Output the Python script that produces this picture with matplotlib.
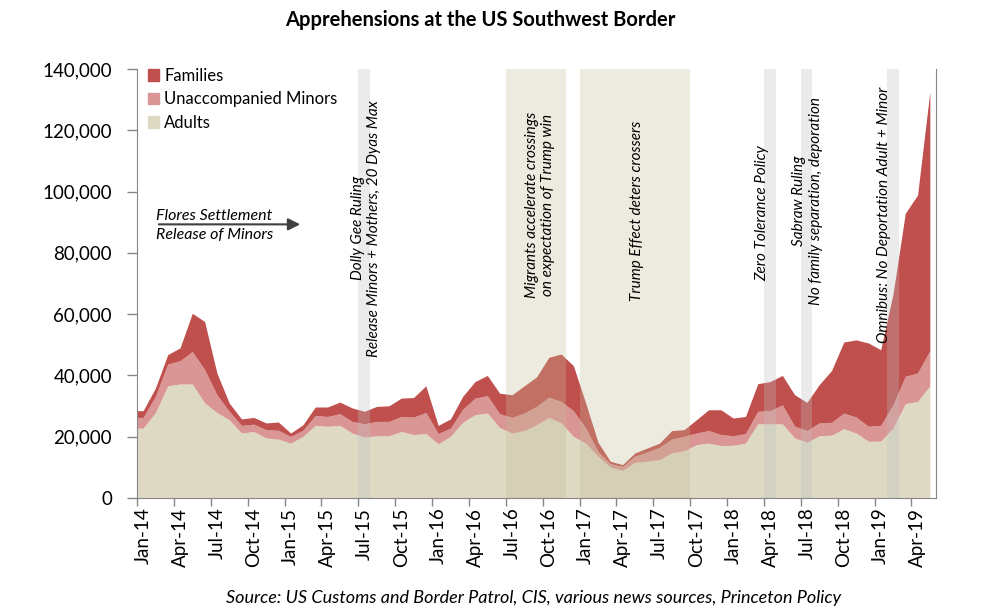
import matplotlib

matplotlib.use('Agg')
import matplotlib.pyplot as plt
from matplotlib.patches import Patch
from matplotlib.ticker import FuncFormatter
import numpy as np

plt.rcParams['font.family'] = ['Lato', 'DejaVu Sans']

# monthly apprehensions, Jan 2014 .. May 2019
adults = [22800, 27900, 36600, 37200, 37200, 31000, 27900, 25500, 21200, 21700,
          19600, 19200, 17900, 20100, 23700, 23400, 23700, 21200, 19900, 20300,
          20300, 21700, 20700, 21000, 17700, 20100, 24700, 27200, 27700, 23000,
          21200, 22000, 23900, 26300, 24500, 20100, 17900, 13600, 10100, 9000,
          11600, 12000, 12500, 14700, 15400, 17400, 17900, 17100, 17200, 17900,
          24200, 24200, 24200, 19600, 18200, 20300, 20500, 22600, 21200, 18500,
          18600, 22800, 30800, 31500, 36600]
minors = [3500, 5300, 7100, 7600, 10600, 10900, 5800, 2800, 2500, 2400,
          2700, 2900, 2200, 2000, 3200, 3200, 3800, 3800, 4300, 4700,
          4700, 4900, 5700, 6900, 3300, 2700, 4300, 5400, 5700, 4500,
          5100, 5700, 6000, 6600, 7000, 8400, 4900, 1600, 1100, 1300,
          2000, 3000, 4000, 4500, 4700, 3800, 4100, 3600, 3100, 3100,
          4100, 4300, 6200, 3800, 3800, 4200, 4200, 5100, 5200, 4900,
          5100, 7600, 8900, 9300, 11500]
families = [2200, 2700, 3100, 4200, 12500, 15700, 7100, 2700, 2100, 2200,
            2200, 2700, 1100, 1800, 2800, 3100, 3800, 4400, 4100, 4900,
            5100, 6000, 6400, 8700, 2700, 3000, 4200, 5400, 6600, 6700,
            7400, 8900, 9600, 13000, 15500, 14700, 8200, 3000, 800, 600,
            1100, 1300, 1400, 2800, 2200, 4300, 6800, 8100, 5800, 5600,
            9000, 9500, 9600, 10300, 9200, 12500, 16900, 23200, 25200, 27200,
            24700, 36100, 53200, 58100, 84500]

tick_labels = ['Jan-14', 'Apr-14', 'Jul-14', 'Oct-14', 'Jan-15', 'Apr-15', 'Jul-15',
               'Oct-15', 'Jan-16', 'Apr-16', 'Jul-16', 'Oct-16', 'Jan-17', 'Apr-17',
               'Jul-17', 'Oct-17', 'Jan-18', 'Apr-18', 'Jul-18', 'Oct-18', 'Jan-19',
               'Apr-19']

# shaded periods (month index start, end)
gray_bands = [(18.0, 18.95), (51.0, 52.0), (54.0, 54.95), (61.0, 62.0)]
tan_bands = [(30.0, 34.9), (36.0, 45.0)]

C_FAM = '#C0504D'
C_UAM = '#D99694'
C_ADU = '#DDD9C3'

n = len(adults)
x = np.arange(n) + 0.5
# stretch first month to the axis edge like the excel chart
xs = np.concatenate([[0], x])
a = np.array(adults, dtype=float)
m = a + np.array(minors)
f = m + np.array(families)
a = np.concatenate([[a[0]], a])
m = np.concatenate([[m[0]], m])
f = np.concatenate([[f[0]], f])

fig = plt.figure(figsize=(9.84, 6.12), dpi=100)
ax = fig.add_axes([137 / 984, 1 - 498 / 612, (936 - 137) / 984, (498 - 69) / 612])

ax.fill_between(xs, 0, a, color=C_ADU, lw=0, zorder=1)
ax.fill_between(xs, a, m, color=C_UAM, lw=0, zorder=1)
ax.fill_between(xs, m, f, color=C_FAM, lw=0, zorder=1)

for s, e in gray_bands:
    ax.axvspan(s, e, color='#BFBFBF', alpha=0.3, lw=0, zorder=2)
for s, e in tan_bands:
    ax.axvspan(s, e, color='#C4BD97', alpha=0.3, lw=0, zorder=2)

ax.set_xlim(0, 65)
ax.set_ylim(0, 140000)
ax.set_yticks(range(0, 140001, 20000))
ax.yaxis.set_major_formatter(FuncFormatter(lambda v, p: '{:,.0f}'.format(v)))

ax.set_xticks(np.arange(0, n, 3) + 0.5)
ax.set_xticklabels(tick_labels, rotation=90)
ax.set_xticks(np.arange(0, n, 3), minor=True)
ax.tick_params(axis='x', which='major', length=0, pad=7, labelsize=13.5)
ax.tick_params(axis='x', which='minor', length=6, color='#868686', width=1)
ax.tick_params(axis='y', length=7, color='#868686', width=1, labelsize=13.5, pad=11)

for side in ['left', 'bottom', 'right']:
    ax.spines[side].set_color('#868686')
ax.spines['top'].set_visible(False)

handles = [Patch(color=C_FAM, label='Families'),
           Patch(color=C_UAM, label='Unaccompanied Minors'),
           Patch(color=C_ADU, label='Adults')]
ax.legend(handles=handles, loc='upper left', bbox_to_anchor=(0.005, 1.018), frameon=False,
          fontsize=12, handlelength=0.7, handleheight=0.7, handletextpad=0.3,
          labelspacing=0.45, borderaxespad=0)

# annotations
it = dict(style='italic', fontsize=11, rotation=90, ha='center', va='center',
          multialignment='center', zorder=3)
ax.text(1.55, 92100, 'Flores Settlement', style='italic', fontsize=11.5, ha='left', va='center')
ax.text(1.55, 85900, 'Release of Minors', style='italic', fontsize=11.5, ha='left', va='center')
ax.annotate('', xy=(13.5, 89300), xytext=(1.55, 89300),
            arrowprops=dict(arrowstyle='-|>', color='#404040', lw=1.5, mutation_scale=18))
ax.text(18.6, 88000, 'Dolly Gee Ruling\nRelease Minors + Mothers, 20 Dyas Max', **it)
ax.text(32.8, 95600, 'Migrants accelerate crossings\non expectation of Trump win', **it)
ax.text(40.7, 93700, 'Trump Effect deters crossers', **it)
ax.text(50.9, 93000, 'Zero Tolerance Policy', **it)
ax.text(54.55, 97000, 'Sabraw Ruling\nNo family separation, deporation', **it)
ax.text(60.8, 92400, 'Omnibus: No Deportation Adult + Minor', **it)

fig.text(480 / 984, 1 - 20 / 612, 'Apprehensions at the US Southwest Border', ha='center',
         va='center', fontsize=14.5, fontweight='bold')
fig.text(534 / 984, 1 - 598 / 612,
         'Source: US Customs and Border Patrol, CIS, various news sources, Princeton Policy',
         ha='center', va='center', fontsize=13, style='italic')

fig.savefig('out.png', dpi=100)
